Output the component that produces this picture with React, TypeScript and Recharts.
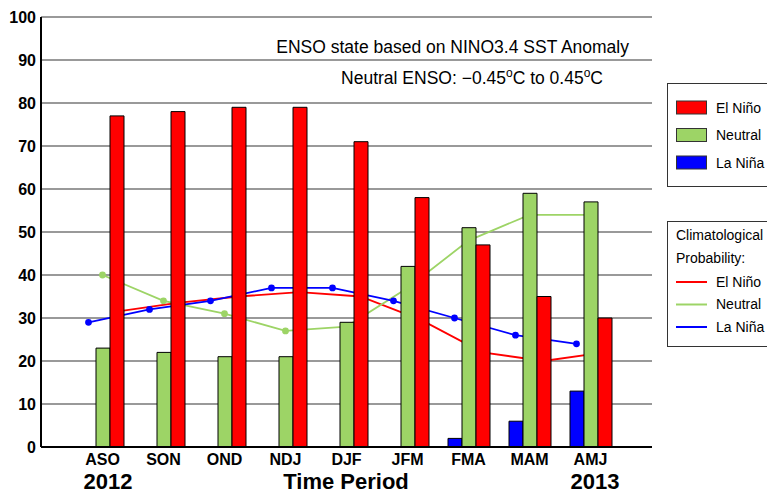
import {
  ComposedChart,
  Bar,
  Line,
  XAxis,
  YAxis,
  CartesianGrid,
} from "recharts";

const periods = ["ASO", "SON", "OND", "NDJ", "DJF", "JFM", "FMA", "MAM", "AMJ"];
const elNino = [77, 78, 79, 79, 71, 58, 47, 35, 30];
const neutral = [23, 22, 21, 21, 29, 42, 51, 59, 57];
const laNina = [0, 0, 0, 0, 0, 0, 2, 6, 13];
const climElNino = [31.5, 33.5, 35, 36, 35, 29.5, 22, 20, 22];
const climNeutral = [40, 34, 31, 27, 28, 37, 48, 54, 54];
const climLaNina = [29, 32, 34, 37, 37, 34, 30, 26, 24];
const yTicks = [0, 10, 20, 30, 40, 50, 60, 70, 80, 90, 100];

const legendNames = ["El Niño", "Neutral", "La Niña"];
const RED = "#ff0000";
const GREEN = "#9dd466";
const BLUE = "#0000ff";
const legendColors = [RED, GREEN, BLUE];

const FONT = "'Liberation Sans', Arial, Helvetica, sans-serif";

const data = periods.map((p, i) => ({
  period: p,
  elNino: elNino[i],
  neutral: neutral[i],
  laNina: laNina[i],
  climElNino: climElNino[i],
  climNeutral: climNeutral[i],
  climLaNina: climLaNina[i],
}));

const tickStyle = { fill: "#000", fontSize: 16, fontWeight: "bold", fontFamily: FONT };

export default function App() {
  return (
    <div style={{ position: "relative", width: 767, height: 494, fontFamily: FONT }}>
      <style>{"body{margin:0}"}</style>
      <ComposedChart
        width={767}
        height={494}
        data={data}
        margin={{ top: 17, right: 115, bottom: 0, left: 0 }}
        barSize={14}
        barGap={0}
      >
        <CartesianGrid vertical={false} stroke="#777" strokeWidth={1.5} />
        <XAxis
          dataKey="period"
          padding={{ left: 31, right: 31 }}
          height={47}
          tickSize={0}
          tickMargin={7}
          tick={tickStyle}
          axisLine={{ stroke: "#000", strokeWidth: 2 }}
        />
        {/* hidden axes shift each line onto its own bar */}
        <XAxis xAxisId="lnina" dataKey="period" hide padding={{ left: 17, right: 45 }} />
        <XAxis xAxisId="lneutral" dataKey="period" hide padding={{ left: 31, right: 31 }} />
        <XAxis xAxisId="lnino" dataKey="period" hide padding={{ left: 45, right: 17 }} />
        <XAxis
          xAxisId="top"
          orientation="top"
          dataKey="period"
          height={0}
          tick={false}
          tickLine={false}
          axisLine={{ stroke: "#000", strokeWidth: 1.5 }}
        />
        <YAxis
          domain={[0, 100]}
          ticks={yTicks}
          width={41}
          tickSize={0}
          tickMargin={5}
          tick={tickStyle}
          axisLine={{ stroke: "#000", strokeWidth: 2 }}
        />
        <YAxis
          yAxisId="frame"
          orientation="right"
          domain={[0, 100]}
          width={0}
          tick={false}
          tickLine={false}
          axisLine={{ stroke: "#000", strokeWidth: 1.5 }}
        />

        <Line
          xAxisId="lnino"
          dataKey="climElNino"
          type="linear"
          stroke={RED}
          strokeWidth={1.8}
          dot={{ r: 2.5, fill: RED, stroke: RED }}
          isAnimationActive={false}
          zIndex={250}
        />
        <Line
          xAxisId="lneutral"
          dataKey="climNeutral"
          type="linear"
          stroke={GREEN}
          strokeWidth={1.8}
          dot={{ r: 2.5, fill: GREEN, stroke: GREEN }}
          isAnimationActive={false}
          zIndex={250}
        />
        <Line
          xAxisId="lnina"
          dataKey="climLaNina"
          type="linear"
          stroke={BLUE}
          strokeWidth={1.8}
          dot={{ r: 2.5, fill: BLUE, stroke: BLUE }}
          isAnimationActive={false}
          zIndex={250}
        />

        <Bar dataKey="laNina" fill={BLUE} stroke="#000" strokeWidth={1} isAnimationActive={false} />
        <Bar dataKey="neutral" fill={GREEN} stroke="#000" strokeWidth={1} isAnimationActive={false} />
        <Bar dataKey="elNino" fill={RED} stroke="#000" strokeWidth={1} isAnimationActive={false} />
      </ComposedChart>

      <svg
        width={767}
        height={494}
        style={{ position: "absolute", left: 0, top: 0, pointerEvents: "none" }}
        fontFamily={FONT}
      >
        <text x={629} y={53} textAnchor="end" fontSize={17.5} fill="#000">
          ENSO state based on NINO3.4 SST Anomaly
        </text>
        <text x={603} y={84} textAnchor="end" fontSize={17.5} fill="#000">
          <tspan>Neutral ENSO: −0.45</tspan>
          <tspan fontSize={12} dy={-7}>o</tspan>
          <tspan dy={7}>C to 0.45</tspan>
          <tspan fontSize={12} dy={-7}>o</tspan>
          <tspan dy={7}>C</tspan>
        </text>

        <text x={108} y={489} textAnchor="middle" fontSize={22} fontWeight="bold">2012</text>
        <text x={346} y={489} textAnchor="middle" fontSize={22} fontWeight="bold">Time Period</text>
        <text x={595} y={489} textAnchor="middle" fontSize={22} fontWeight="bold">2013</text>

        {/* forecast legend */}
        <rect x={667.5} y={83.5} width={120} height={103} fill="#fff" stroke="#333" strokeWidth={1} />
        {legendNames.map((name, i) => (
          <g key={name}>
            <rect
              x={676.5}
              y={101 + i * 27.5}
              width={30}
              height={13}
              fill={legendColors[i]}
              stroke="#333"
              strokeWidth={1}
            />
            <text x={716} y={112.5 + i * 27.5} fontSize={14} fill="#000">
              {name}
            </text>
          </g>
        ))}

        {/* climatology legend */}
        <rect x={667.5} y={221.5} width={120} height={125} fill="#fff" stroke="#333" strokeWidth={1} />
        <text x={676} y={239.5} fontSize={14} fill="#000">Climatological</text>
        <text x={676} y={263} fontSize={14} fill="#000">Probability:</text>
        {legendNames.map((name, i) => (
          <g key={"c" + name}>
            <line
              x1={676}
              x2={707}
              y1={282 + i * 22.5}
              y2={282 + i * 22.5}
              stroke={legendColors[i]}
              strokeWidth={2}
            />
            <text x={716} y={286.5 + i * 22.5} fontSize={14} fill="#000">
              {name}
            </text>
          </g>
        ))}
      </svg>
    </div>
  );
}
